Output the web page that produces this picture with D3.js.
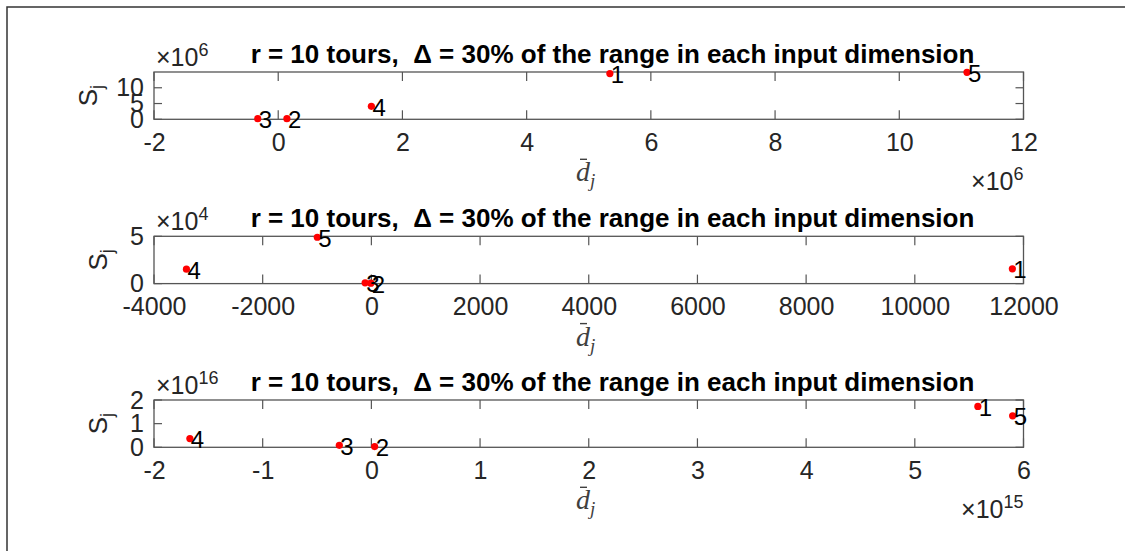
<!DOCTYPE html>
<html><head><meta charset="utf-8">
<script src="https://cdn.jsdelivr.net/npm/d3@7"></script>
<style>
body{margin:0;background:#fff;}
svg{display:block;font-family:"Liberation Sans",Arial,Helvetica,sans-serif;}
</style>
</head><body>
<svg id="chart" width="1125" height="551"></svg>
<script>
// ---------- data ----------
const pointLabels = ["1", "2", "3", "4", "5"];
const titleText = "r = 10 tours,  \u0394 = 30% of the range in each input dimension";

// panel 1 (x and y in absolute units)
const p1X = [5.34e6, 0.14e6, -0.33e6, 1.50e6, 11.09e6];
const p1Y = [14.5e6, 0.2e6, 0.2e6, 4.1e6, 14.9e6];
const p1XTicks = [-2e6, 0, 2e6, 4e6, 6e6, 8e6, 10e6, 12e6];
const p1YTicks = [0, 5e6, 10e6];

// panel 2
const p2X = [11795, -10, -115, -3403, -995];
const p2Y = [1.56e4, 0.05e4, 0.08e4, 1.53e4, 4.9e4];
const p2XTicks = [-4000, -2000, 0, 2000, 4000, 6000, 8000, 10000, 12000];
const p2YTicks = [0, 5e4];

// panel 3
const p3X = [5.58e15, 0.03e15, -0.295e15, -1.67e15, 5.90e15];
const p3Y = [1.73e16, 0.03e16, 0.085e16, 0.37e16, 1.33e16];
const p3XTicks = [-2e15, -1e15, 0, 1e15, 2e15, 3e15, 4e15, 5e15, 6e15];
const p3YTicks = [0, 1e16, 2e16];

const panels = [
  {xs: p1X, ys: p1Y, xTicks: p1XTicks, yTicks: p1YTicks, xDom: [-2e6, 12e6], yDom: [0, 15e6], xExp: 6, yExp: 6, top: 72, labelX: 97},
  {xs: p2X, ys: p2Y, xTicks: p2XTicks, yTicks: p2YTicks, xDom: [-4000, 12000], yDom: [0, 5e4], xExp: 0, yExp: 4, top: 236.3, labelX: 107},
  {xs: p3X, ys: p3Y, xTicks: p3XTicks, yTicks: p3YTicks, xDom: [-2e15, 6e15], yDom: [0, 2e16], xExp: 15, yExp: 16, top: 400, labelX: 107}
];

// ---------- layout ----------
const svg = d3.select("#chart");
const left = 154, right = 1023.5, h = 47.3;
const textCol = "#262626", boxCol = "#555555";
const fs = 25;

// figure frame (top + left edges)
svg.append("path").attr("d", "M7,551 V7 H1125").attr("fill", "none")
  .attr("stroke", "#333").attr("stroke-width", 1.5);

function fmt(v) { return String(Math.round(v * 1000) / 1000); }

panels.forEach(p => {
  const x = d3.scaleLinear().domain(p.xDom).range([left, right]);
  const y = d3.scaleLinear().domain(p.yDom).range([p.top + h, p.top]);
  const bottom = p.top + h;
  const g = svg.append("g");
  const xd = Math.pow(10, p.xExp), yd = Math.pow(10, p.yExp);

  // bottom axis labels
  const ax = g.append("g").attr("transform", `translate(0,${bottom})`)
    .call(d3.axisBottom(x).tickValues(p.xTicks).tickSize(0).tickPadding(13.5)
      .tickFormat(d => fmt(d / xd)));
  ax.select(".domain").remove();
  ax.selectAll("text").attr("fill", textCol).style("font-size", fs + "px")
    .style("font-family", "'Liberation Sans',Arial,sans-serif");

  // left axis labels
  const ay = g.append("g").attr("transform", `translate(${left},0)`)
    .call(d3.axisLeft(y).tickValues(p.yTicks).tickSize(0).tickPadding(10)
      .tickFormat(d => fmt(d / yd)));
  ay.select(".domain").remove();
  ay.selectAll("text").attr("fill", textCol).style("font-size", fs + "px")
    .style("font-family", "'Liberation Sans',Arial,sans-serif");

  // inward tick marks
  const tk = g.append("g").attr("stroke", boxCol).attr("stroke-width", 1.2);
  p.xTicks.forEach(t => {
    const xx = x(t);
    tk.append("line").attr("x1", xx).attr("x2", xx).attr("y1", bottom).attr("y2", bottom - 9);
    tk.append("line").attr("x1", xx).attr("x2", xx).attr("y1", p.top).attr("y2", p.top + 9);
  });
  p.yTicks.forEach(t => {
    const yy = y(t);
    tk.append("line").attr("x1", left).attr("x2", left + 8).attr("y1", yy).attr("y2", yy);
    tk.append("line").attr("x1", right).attr("x2", right - 8).attr("y1", yy).attr("y2", yy);
  });

  // box
  g.append("rect").attr("x", left).attr("y", p.top).attr("width", right - left).attr("height", h)
    .attr("fill", "none").attr("stroke", boxCol).attr("stroke-width", 1.3);

  // title
  g.append("text").attr("x", 612.5).attr("y", p.top - 9).attr("text-anchor", "middle")
    .style("font-size", "26px").style("font-weight", "bold").style("white-space", "pre")
    .attr("fill", "#000").text(titleText);

  // y exponent (top-left)
  const ye = g.append("text").attr("x", 156).attr("y", p.top - 6).attr("fill", textCol)
    .style("font-size", fs + "px");
  ye.append("tspan").text("\u00d710");
  ye.append("tspan").attr("dy", -10).style("font-size", "18px").text(String(p.yExp));

  // x exponent (bottom-right)
  if (p.xExp) {
    const xe = g.append("text").attr("x", right).attr("y", bottom + 71).attr("fill", textCol)
      .attr("text-anchor", "end").style("font-size", fs + "px");
    xe.append("tspan").text("\u00d710");
    xe.append("tspan").attr("dy", -10).style("font-size", "18px").text(String(p.xExp));
  }

  // y label S_j
  const yly = p.top + h / 2;
  const yl = g.append("text").attr("transform", `translate(${p.labelX},${yly}) rotate(-90)`)
    .attr("text-anchor", "middle").attr("fill", textCol).style("font-size", "26px");
  yl.append("tspan").text("S");
  yl.append("tspan").attr("dy", 6).style("font-size", "18px").text("j");

  // x label d-bar_j
  const dl = g.append("g").attr("fill", "#404040");
  const dx0 = 576, dBase = bottom + 62;
  dl.append("text").attr("x", dx0).attr("y", dBase)
    .style("font-family", "'Liberation Serif','DejaVu Serif',serif").style("font-style", "italic")
    .style("font-size", "28px").text("d");
  dl.append("text").attr("x", dx0 + 14).attr("y", dBase + 6)
    .style("font-family", "'Liberation Serif','DejaVu Serif',serif").style("font-style", "italic")
    .style("font-size", "19px").text("j");
  dl.append("line").attr("x1", dx0 + 4).attr("x2", dx0 + 11).attr("y1", dBase - 22).attr("y2", dBase - 22)
    .attr("stroke", "#404040").attr("stroke-width", 1.4);

  // points
  const data = pointLabels.map((l, i) => ({l, x: p.xs[i], y: p.ys[i]}));
  g.append("g").selectAll("circle").data(data).join("circle")
    .attr("cx", d => x(d.x)).attr("cy", d => y(d.y)).attr("r", 3.6).attr("fill", "#ff0000");
  g.append("g").selectAll("text").data(data).join("text")
    .attr("x", d => x(d.x) + 1).attr("y", d => y(d.y) + 9.5)
    .style("font-size", "24px").attr("fill", "#000").text(d => d.l);
});
</script>
</body></html>
